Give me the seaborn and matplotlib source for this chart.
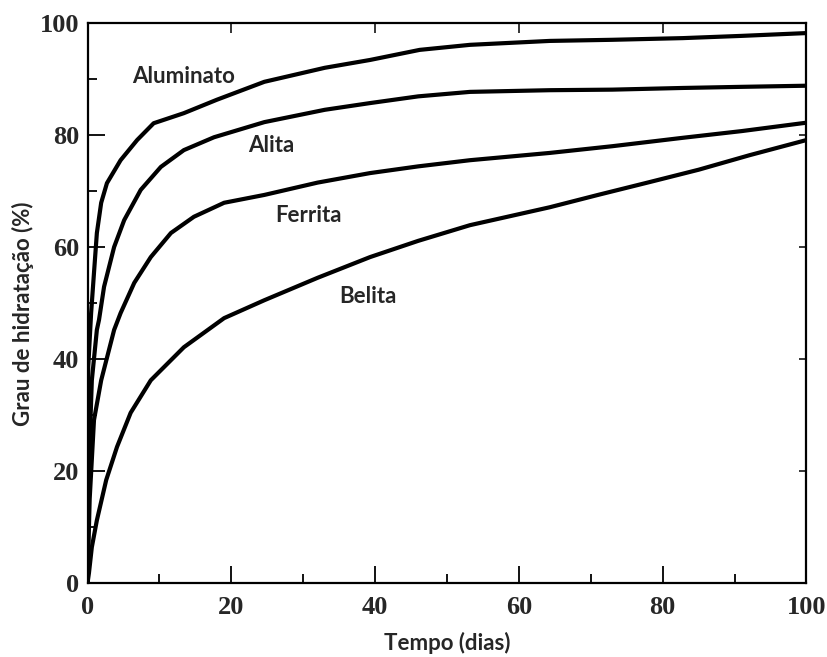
import matplotlib
matplotlib.use("Agg")
import matplotlib.pyplot as plt
from matplotlib.ticker import MultipleLocator
import pandas as pd
import seaborn as sns

# Hydration degree (%) of the clinker phases versus time (days)
aluminato_t = [0, 0.1, 0.5, 0.9, 1.3, 1.9, 2.7, 4.6, 6.9, 9.2, 13.4, 18.0, 24.6,
               33.0, 39.3, 46.2, 53.2, 64.3, 73.0, 82.8, 91.0, 100]
aluminato_g = [0, 38.6, 48.2, 55.4, 62.5, 67.9, 71.4, 75.5, 79.1, 82.1, 83.9, 86.3, 89.5,
               92.0, 93.4, 95.2, 96.1, 96.8, 97.0, 97.3, 97.7, 98.2]

alita_t = [0, 0.15, 0.3, 0.6, 1.3, 1.6, 2.3, 3.7, 5.1, 7.4, 10.2, 13.4, 17.6, 24.6,
           33.0, 39.3, 46.0, 53.2, 64.3, 73.0, 82.8, 91.0, 100]
alita_g = [0, 15.0, 25.0, 36.2, 45.2, 47.0, 52.9, 60.0, 64.8, 70.2, 74.3, 77.3, 79.6, 82.3,
           84.5, 85.7, 86.9, 87.7, 88.0, 88.1, 88.4, 88.6, 88.8]

ferrita_t = [0, 0.3, 0.9, 1.9, 3.7, 4.6, 6.5, 8.8, 11.6, 14.8, 19.0, 24.6,
             32.0, 39.3, 46.0, 53.2, 64.3, 73.0, 82.8, 91.0, 100]
ferrita_g = [0, 15.0, 29.1, 36.2, 45.2, 48.2, 53.6, 58.2, 62.5, 65.4, 67.9, 69.3,
             71.5, 73.2, 74.4, 75.5, 76.8, 78.0, 79.5, 80.7, 82.2]

belita_t = [0, 0.2, 0.6, 1.3, 2.6, 4.1, 6.0, 8.8, 13.4, 19.0, 24.6,
            32.0, 39.3, 46.0, 53.2, 64.3, 71.0, 78.2, 85.0, 92.1, 100]
belita_g = [0, 1.8, 6.4, 11.2, 18.4, 24.3, 30.4, 36.2, 42.1, 47.3, 50.5,
            54.5, 58.2, 61.1, 63.9, 67.1, 69.3, 71.6, 73.8, 76.4, 79.1]

fases = ["Aluminato", "Alita", "Ferrita", "Belita"]
# label anchor (time, degree) for each phase name
rotulo_t = [13.4, 25.5, 30.8, 39.0]
rotulo_g = [90.5, 78.2, 65.7, 51.2]

frames = []
for nome, t, g in [("Aluminato", aluminato_t, aluminato_g),
                   ("Alita", alita_t, alita_g),
                   ("Ferrita", ferrita_t, ferrita_g),
                   ("Belita", belita_t, belita_g)]:
    frames.append(pd.DataFrame({"Tempo": t, "Grau": g, "Fase": nome}))
df = pd.concat(frames, ignore_index=True)

sns.set_theme(style="ticks")
plt.rcParams["font.family"] = ["Lato", "DejaVu Sans"]

fig = plt.figure(figsize=(8.28, 6.57), dpi=100)
ax = fig.add_axes([0.1057, 0.1126, 0.8683, 0.8524])

sns.lineplot(data=df, x="Tempo", y="Grau", hue="Fase", units="Fase",
             estimator=None, sort=False, palette=["black"] * 4,
             linewidth=3.0, legend=False, ax=ax)
for line in ax.lines:
    line.set_solid_capstyle("butt")
    line.set_solid_joinstyle("round")

ax.set_xlim(0, 100)
ax.set_ylim(0, 100)

for side in ["left", "bottom", "top", "right"]:
    ax.spines[side].set_linewidth(1.6)
    ax.spines[side].set_color("black")

ax.xaxis.set_major_locator(MultipleLocator(20))
ax.xaxis.set_minor_locator(MultipleLocator(10))
ax.yaxis.set_major_locator(MultipleLocator(20))
ax.yaxis.set_minor_locator(MultipleLocator(10))

ax.tick_params(which="major", direction="in", length=12, width=1.3,
               color="black", top=False, right=False)
ax.tick_params(which="minor", direction="in", length=6.5, width=1.3,
               color="black", top=False, right=False)
ax.tick_params(axis="x", which="major", pad=9)
ax.tick_params(axis="y", which="major", pad=6)

for lab in ax.get_xticklabels() + ax.get_yticklabels():
    lab.set_fontfamily("Liberation Serif")
    lab.set_fontweight("bold")
    lab.set_fontsize(19)

# shorter ticks on the top and right edges
top = ax.secondary_xaxis("top")
top.set_xticks([20, 40, 60, 80])
top.tick_params(direction="in", length=7, width=1.3, labeltop=False)
top.spines["top"].set_visible(False)
right = ax.secondary_yaxis("right")
right.set_yticks([20, 40, 60, 80])
right.tick_params(direction="in", length=5, width=1.3, labelright=False)
right.spines["right"].set_visible(False)

ax.set_xlabel("Tempo (dias)", fontsize=16, fontweight="bold")
ax.xaxis.set_label_coords(0.5, -0.088)
ax.set_ylabel("Grau de hidratação (%)", fontsize=16, fontweight="bold")
ax.yaxis.set_label_coords(-0.074, 0.48)

for nome, tx, gy in zip(fases, rotulo_t, rotulo_g):
    ax.text(tx, gy, nome, ha="center", va="center", fontsize=16, fontweight="bold")

fig.savefig("out.png", dpi=100, facecolor="white")
